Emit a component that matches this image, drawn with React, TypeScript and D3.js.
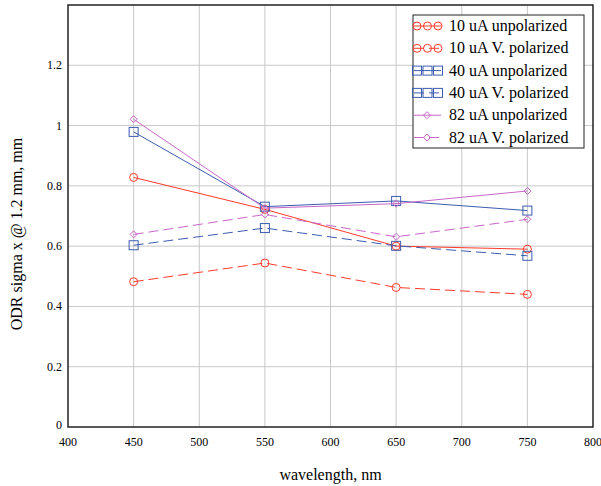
import React from "react";
import * as d3 from "d3";

const wavelengths = [450, 550, 650, 750];
const s10Unpol = [0.828, 0.722, 0.6, 0.59];
const s10Pol = [0.482, 0.544, 0.463, 0.44];
const s40Unpol = [0.979, 0.731, 0.75, 0.718];
const s40Pol = [0.603, 0.66, 0.601, 0.568];
const s82Unpol = [1.021, 0.726, 0.741, 0.783];
const s82Pol = [0.639, 0.705, 0.631, 0.689];
const xTicks = [400, 450, 500, 550, 600, 650, 700, 750, 800];
const yTicks = [0, 0.2, 0.4, 0.6, 0.8, 1, 1.2];

const RED = "#ff3a2a";
const BLUE = "#3c5cb0";
const MAG = "#c866c8";

type Series = { name: string; values: number[]; color: string; dashed: boolean; marker: "circle" | "square" | "diamond" };
const series: Series[] = [
  { name: "10 uA unpolarized", values: s10Unpol, color: RED, dashed: false, marker: "circle" },
  { name: "10 uA V. polarized", values: s10Pol, color: RED, dashed: true, marker: "circle" },
  { name: "40 uA unpolarized", values: s40Unpol, color: BLUE, dashed: false, marker: "square" },
  { name: "40 uA V. polarized", values: s40Pol, color: BLUE, dashed: true, marker: "square" },
  { name: "82 uA unpolarized", values: s82Unpol, color: MAG, dashed: false, marker: "diamond" },
  { name: "82 uA V. polarized", values: s82Pol, color: MAG, dashed: true, marker: "diamond" },
];

const W = 601, H = 486;
const L = 68, R = 593, T = 5, B = 427;
const FONT = "'Liberation Serif', 'Times New Roman', serif";

function Marker({ kind, x, y, color }: { kind: string; x: number; y: number; color: string }) {
  if (kind === "circle") return <circle cx={x} cy={y} r={4} fill="none" stroke={color} strokeWidth={1} />;
  if (kind === "square") return <rect x={x - 4.5} y={y - 4.5} width={9} height={9} fill="none" stroke={color} strokeWidth={1} />;
  return <path d={`M${x},${y - 3.5}L${x + 3.5},${y}L${x},${y + 3.5}L${x - 3.5},${y}Z`} fill="none" stroke={color} strokeWidth={1} />;
}

export default function App() {
  const x = d3.scaleLinear().domain([400, 800]).range([L, R]);
  const y = d3.scaleLinear().domain([0, 1.4]).range([B, T]);
  const line = d3.line<[number, number]>().x(d => x(d[0])).y(d => y(d[1]));
  const legX = 413, legY = 15, legW = 171, legH = 133, rowH = 22.3;
  return (
    <svg width={W} height={H} style={{ position: "absolute", left: 0, top: 0, background: "#fff" }} fontFamily={FONT}>
      <rect x={0} y={0} width={W} height={H} fill="#fff" />
      {xTicks.slice(1, -1).map(t => (
        <line key={"gx" + t} x1={x(t)} x2={x(t)} y1={T} y2={B} stroke="#c8c8c8" strokeWidth={1} />
      ))}
      {yTicks.slice(1).map(t => (
        <line key={"gy" + t} x1={L} x2={R} y1={y(t)} y2={y(t)} stroke="#c8c8c8" strokeWidth={1} />
      ))}
      {series.map(s => {
        const pts = wavelengths.map((w, i) => [w, s.values[i]] as [number, number]);
        return (
          <g key={s.name}>
            <path d={line(pts) || ""} fill="none" stroke={s.color} strokeWidth={1} strokeDasharray={s.dashed ? "10,5" : undefined} />
            {pts.map((p, i) => <Marker key={i} kind={s.marker} x={x(p[0])} y={y(p[1])} color={s.color} />)}
          </g>
        );
      })}
      <rect x={L} y={T} width={R - L} height={B - T} fill="none" stroke="#222" strokeWidth={1.5} />
      {yTicks.map(t => (
        <text key={"yt" + t} x={62} y={y(t) + (t === 0 ? 2 : 4)} textAnchor="end" fontSize={12} fill="#000">{t}</text>
      ))}
      {xTicks.map(t => (
        <text key={"xt" + t} x={x(t)} y={446} textAnchor="middle" fontSize={12} fill="#000">{t}</text>
      ))}
      <text x={(L + R) / 2} y={480} textAnchor="middle" fontSize={16} fill="#000">wavelength, nm</text>
      <text transform={`translate(22,${(T + B) / 2 + 18}) rotate(-90)`} textAnchor="middle" fontSize={16} fill="#000">ODR sigma x @ 1.2 mm, mm</text>
      <g>
        <rect x={legX} y={legY} width={legW} height={legH} fill="#fff" stroke="#222" strokeWidth={1} />
        {series.map((s, i) => {
          const cy = legY + 11 + i * rowH;
          const markers = s.marker === "diamond" ? [427] : [417, 427.5, 438];
          return (
            <g key={"lg" + s.name}>
              <line x1={414} x2={441} y1={cy} y2={cy} stroke={s.color} strokeWidth={1} strokeDasharray={s.dashed ? "10,5" : undefined} />
              {markers.map(mx => <Marker key={mx} kind={s.marker} x={mx} y={cy} color={s.color} />)}
              <text x={449} y={cy + 5} fontSize={16} fill="#000">{s.name}</text>
            </g>
          );
        })}
      </g>
    </svg>
  );
}
